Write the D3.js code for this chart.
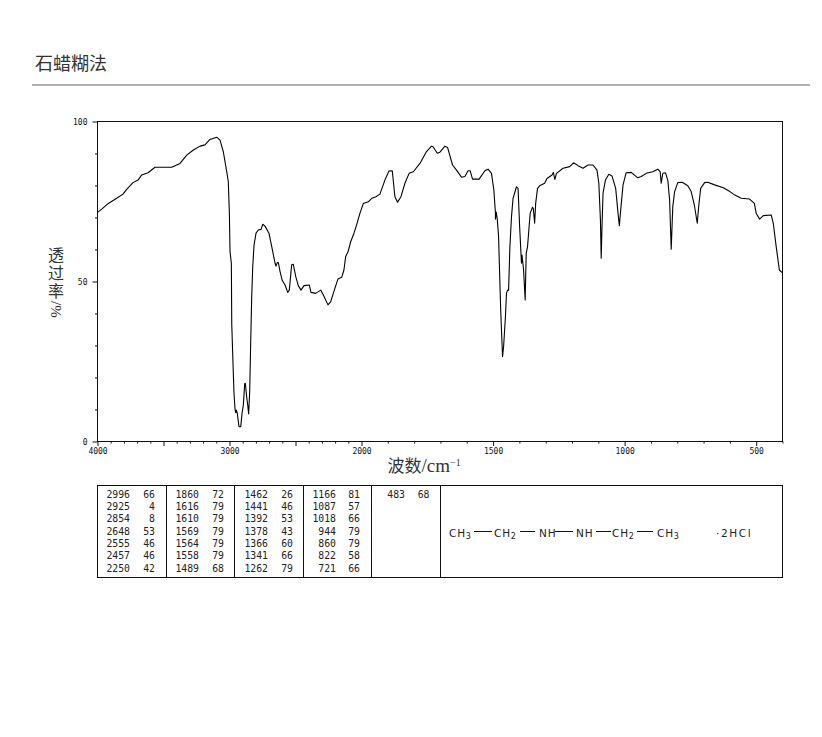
<!DOCTYPE html>
<html>
<head>
<meta charset="utf-8">
<script src="https://cdn.jsdelivr.net/npm/d3@7/dist/d3.min.js"></script>
<style>
html,body{margin:0;padding:0;background:#fff;}
svg{display:block;}
</style>
</head>
<body>
<svg id="chart" width="822" height="737"></svg>
<script>
const wavenumbers = [4000,3968,3918,3855,3807,3779,3731,3693,3665,3617,3564,3438,3375,3324,3274,3223,3186,3148,3097,3072,3047,3021,3009,3001,2996,2986,2983,2976,2966,2958,2953,2948,2941,2928,2915,2905,2895,2885,2880,2870,2862,2855,2847,2839,2832,2824,2814,2799,2782,2761,2748,2731,2701,2680,2655,2648,2638,2630,2617,2600,2579,2559,2547,2529,2517,2498,2479,2458,2436,2395,2383,2347,2309,2289,2254,2233,2206,2178,2150,2133,2120,2102,2082,2057,2037,2012,1993,1974,1961,1945,1930,1911,1896,1883,1873,1863,1850,1835,1819,1803,1778,1753,1734,1728,1712,1702,1683,1673,1654,1639,1620,1607,1595,1587,1578,1553,1531,1519,1506,1497,1491,1491,1488,1484,1479,1476,1471,1464,1460,1453,1449,1445,1441,1436,1430,1424,1411,1405,1399,1392,1390,1384,1378,1374,1369,1364,1359,1350,1347,1342,1338,1331,1323,1304,1295,1276,1271,1265,1259,1234,1209,1194,1177,1158,1139,1120,1105,1098,1092,1089,1086,1082,1073,1060,1048,1034,1025,1020,1015,1006,994,975,950,937,918,893,874,865,861,855,845,836,829,823,817,810,798,781,760,747,735,724,718,711,696,684,658,625,600,581,557,526,507,500,487,473,443,435,424,412,400];
const transmittance = [71.6,72.6,74.4,76.0,77.3,78.8,80.9,81.7,83.3,84.0,85.7,85.7,86.9,89.5,91.1,92.3,92.7,94.4,95.1,94.2,90.6,84.3,81.2,71.4,59.3,55.7,36.9,27.6,15.1,10.1,9.0,9.8,8.8,4.6,4.6,8.8,11.4,18.0,18.2,14.0,11.4,8.6,15.6,31.7,44.8,54.6,61.4,65.1,66.1,66.3,67.9,67.3,65.1,60.9,55.7,54.8,55.9,55.9,53.1,50.3,48.9,46.6,47.3,55.2,55.4,51.5,48.7,47.3,48.7,48.9,46.6,46.3,47.3,45.8,42.7,43.7,47.3,50.8,51.3,53.6,57.8,59.3,62.4,65.1,67.7,71.3,74.4,74.9,76.0,76.5,77.3,81.7,84.5,84.6,76.5,74.8,76.5,80.7,83.8,84.3,86.9,90.6,92.3,92.1,90.1,90.4,92.3,91.9,86.4,84.8,82.6,82.8,84.6,84.6,82.0,82.0,84.6,85.1,83.8,78.6,71.4,69.5,71.7,69.5,64.0,55.2,41.1,26.5,29.6,39.0,46.3,47.3,47.3,60.9,70.2,76.0,79.6,79.1,67.1,55.7,58.3,53.6,44.2,58.8,60.9,66.1,71.3,73.2,72.8,68.2,74.5,79.1,79.9,80.7,82.2,83.3,84.1,81.9,83.8,85.4,85.9,87.1,86.2,85.4,86.4,86.4,84.8,80.7,69.2,57.3,67.1,77.6,81.7,83.5,83.0,79.1,71.3,67.4,72.3,80.2,84.0,84.1,82.4,82.8,83.8,84.3,85.1,84.3,80.7,83.8,84.0,81.7,75.5,60.1,73.4,78.1,80.9,81.0,79.9,78.1,73.9,68.2,73.9,79.1,80.9,81.0,80.2,79.3,78.1,77.0,76.0,75.8,74.4,71.3,69.5,70.6,70.8,68.2,60.9,53.6,52.7];

const xTicksMajor = [4000,3500,3000,2500,2000,1500,1000,500];
const xTickLabels = [4000,3000,2000,1500,1000,500];
const yTicks = [0,10,20,30,40,50,60,70,80,90,100];
const yTickLabels = [0,50,100];

const peakColumns = [
  [2996,2925,2854,2648,2555,2457,2250],
  [1860,1616,1610,1569,1564,1558,1489],
  [1462,1441,1392,1378,1366,1341,1262],
  [1166,1087,1018,944,860,822,721],
  [483]
];
const peakValues = [
  [66,4,8,53,46,46,42],
  [72,79,79,79,79,79,68],
  [26,46,53,43,60,66,79],
  [81,57,66,79,79,58,66],
  [68]
];

const title = "石蜡糊法";
const svg = d3.select("#chart");
const mono = "'DejaVu Sans Mono', monospace";
const cjk = "'Noto Sans CJK SC', serif";
const serif = "'Liberation Serif', serif";
const ink = "#111";

// title + rule
svg.append("text").attr("x",35).attr("y",70).attr("font-family",cjk).attr("font-size",18).attr("font-weight",400).attr("fill","#333").text(title);
svg.append("line").attr("x1",32).attr("x2",810).attr("y1",85).attr("y2",85).attr("stroke","#999").attr("stroke-width",1.4);

// scales: the wavenumber axis doubles its scale below 2000
const x = d3.scaleLinear().domain([4000,2000,400]).range([97.5,361.5,782.5]);
const y = d3.scaleLinear().domain([0,100]).range([441.5,121.5]);

// frame
svg.append("rect").attr("x",x(4000)).attr("y",y(100)).attr("width",x(400)-x(4000)).attr("height",y(0)-y(100))
  .attr("fill","none").attr("stroke",ink).attr("stroke-width",1);

// axes
const xMinor = d3.range(4000,399,-100);
const xAxis = d3.axisBottom(x).tickValues(xMinor).tickSizeOuter(0).tickSize(2).tickPadding(5)
  .tickFormat(d => xTickLabels.includes(d) ? d : "");
const gx = svg.append("g").attr("transform",`translate(0,${y(0)})`).call(xAxis);
gx.select(".domain").remove();
gx.selectAll(".tick line").attr("y2",d => xTicksMajor.includes(d) ? 4.5 : 2).attr("stroke",ink);
gx.selectAll(".tick text").attr("font-family",mono).attr("font-size",8).attr("fill",ink).attr("y",7);

const yAxis = d3.axisLeft(y).tickValues(yTicks).tickSizeOuter(0).tickSize(3).tickPadding(7)
  .tickFormat(d => yTickLabels.includes(d) ? d : "");
const gy = svg.append("g").attr("transform",`translate(${x(4000)},0)`).call(yAxis);
gy.select(".domain").remove();
gy.selectAll(".tick line").attr("x2",d => yTickLabels.includes(d) ? -5 : -2.5).attr("stroke",ink);
gy.selectAll(".tick text").attr("font-family",mono).attr("font-size",8).attr("fill",ink).attr("x",-10);

// spectrum
const line = d3.line().x(d => x(d[0])).y(d => y(d[1]));
svg.append("path").datum(d3.zip(wavenumbers,transmittance)).attr("d",line)
  .attr("fill","none").attr("stroke","#000").attr("stroke-width",1.1).attr("stroke-linejoin","round");

// axis titles
const xt = svg.append("text").attr("x",387.5).attr("y",472).attr("fill","#333");
xt.append("tspan").attr("font-family",cjk).attr("font-size",17).text("波数");
xt.append("tspan").attr("font-family",serif).attr("font-size",19).text("/cm");
xt.append("tspan").attr("font-family",serif).attr("font-size",10).attr("dy",-6).text("−1");

const yt = svg.append("text").attr("x",56).attr("y",247).style("writing-mode","vertical-rl").style("text-orientation","mixed").attr("fill","#333");
yt.append("tspan").attr("font-family",cjk).attr("font-size",16).attr("letter-spacing",2).text("透过率");
yt.append("tspan").attr("font-family",serif).attr("font-size",15).text("/%");

// peak table
const tableTop = 485.5, tableBottom = 577.5;
svg.append("rect").attr("x",x(4000)).attr("y",tableTop).attr("width",x(400)-x(4000)).attr("height",tableBottom-tableTop)
  .attr("fill","none").attr("stroke",ink).attr("stroke-width",1);
const dividers = [166.5,234.5,303.5,371.5,440.5];
svg.selectAll("line.div").data(dividers).join("line").attr("class","div")
  .attr("x1",d=>d).attr("x2",d=>d).attr("y1",tableTop).attr("y2",tableBottom).attr("stroke",ink);
const wnRight = [130,199,268,336,405];
const valRight = [155,224,293,360,429.5];
const rowY = i => 494.3 + i*12.3;
peakColumns.forEach((col,c) => {
  col.forEach((w,i) => {
    svg.append("text").attr("x",wnRight[c]).attr("y",rowY(i)).attr("dy","0.36em").attr("text-anchor","end")
      .attr("font-family",mono).attr("font-size",9.8).attr("fill","#222").text(w);
    svg.append("text").attr("x",valRight[c]).attr("y",rowY(i)).attr("dy","0.36em").attr("text-anchor","end")
      .attr("font-family",mono).attr("font-size",9.8).attr("fill","#222").text(peakValues[c][i]);
  });
});

// structure
const groups = [["CH","3",449],["CH","2",494],["NH","",539],["NH","",576],["CH","2",612],["CH","3",657]];
const bonds = [[474,492],[520,535],[555,573],[596,611],[637,653]];
const structureBase = 536.5;
groups.forEach(g => {
  const t = svg.append("text").attr("x",g[2]).attr("y",structureBase).attr("font-family","'DejaVu Sans', sans-serif")
    .attr("font-size",10.5).attr("letter-spacing",0.8).attr("fill","#222");
  t.append("tspan").text(g[0]);
  if (g[1]) t.append("tspan").attr("font-size",8).attr("dy",2).text(g[1]);
});
svg.selectAll("line.bond").data(bonds).join("line").attr("class","bond")
  .attr("x1",d=>d[0]).attr("x2",d=>d[1]).attr("y1",531.5).attr("y2",531.5).attr("stroke",ink);
svg.append("text").attr("x",716).attr("y",structureBase).attr("font-family","'DejaVu Sans', sans-serif")
  .attr("font-size",10.5).attr("letter-spacing",1.6).attr("fill","#222").text("·2HCl");
</script>
</body>
</html>
